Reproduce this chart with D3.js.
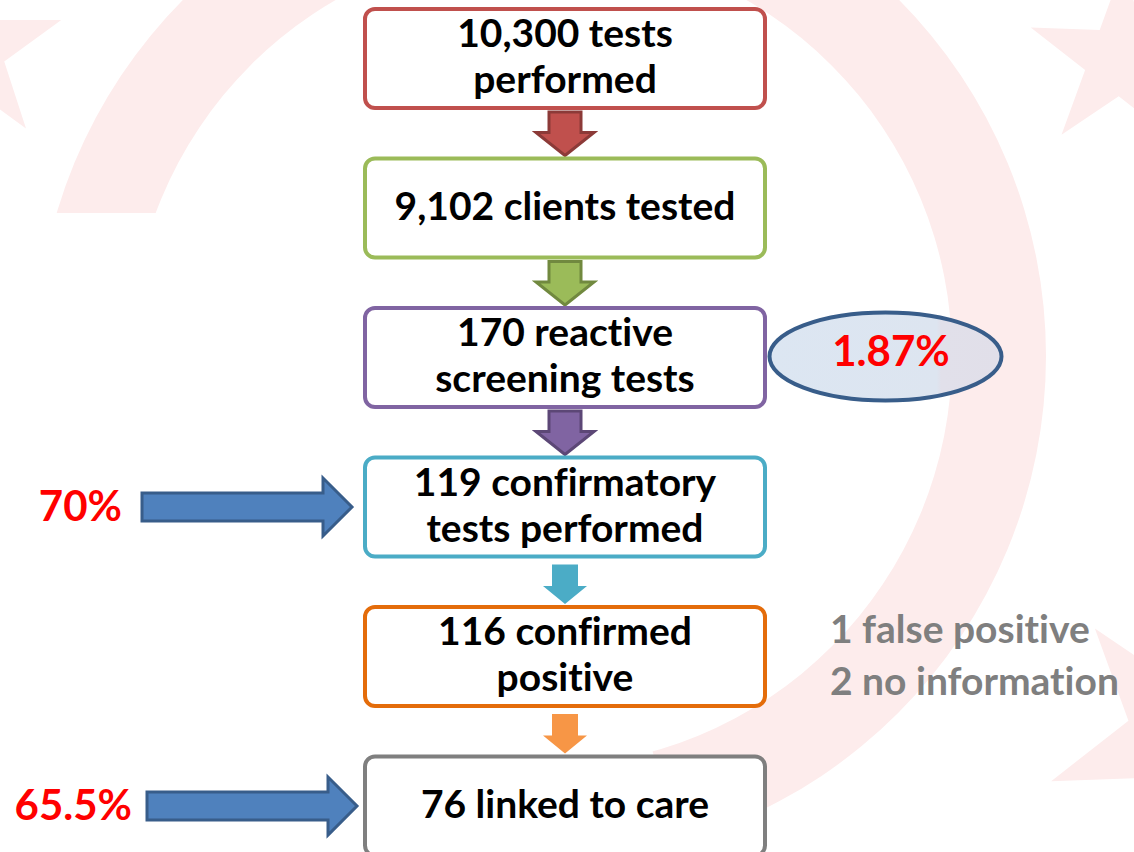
<!DOCTYPE html>
<html>
<head>
<meta charset="utf-8">
<script src="https://cdn.jsdelivr.net/npm/d3@7"></script>
<style>
  body { margin: 0; background: #fff; }
  svg { display: block; font-family: Lato, 'Open Sans', sans-serif; font-weight: 700; font-variant-ligatures: none; }
</style>
</head>
<body>
<div id="chart"></div>
<script>
// cascade steps, top to bottom
const steps = [
  ['10,300 tests', 'performed'],
  ['9,102 clients tested'],
  ['170 reactive', 'screening tests'],
  ['119 confirmatory', 'tests performed'],
  ['116 confirmed', 'positive'],
  ['76 linked to care']
]
const stepColors = ['#c0504d', '#9bbb59', '#8064a2', '#4bacc6', '#e46c0a', '#7f7f7f']
const arrowColors = ['#c0504d', '#9bbb59', '#8064a2', '#4bacc6', '#f79646']
const arrowEdges = ['#8c3a38', '#71893f', '#5c4776', null, null]

// side notes
const positivity = '1.87%'
const sideRates = [{label: '70%', step: 3}, {label: '65.5%', step: 5}]
const lostNotes = ['1 false positive', '2 no information']

const width = 1134
const height = 852

const svg = d3.select('#chart').append('svg')
  .attr('width', width)
  .attr('height', height)

const y = d3.scaleBand()
  .domain(d3.range(steps.length))
  .range([9, 9 + steps.length * 149.5 - 50.5])
  .paddingInner(0.338)
  .paddingOuter(0)

const boxX = 365
const boxW = 400
const cx = boxX + boxW / 2

// faint ring and stars behind everything
const pink = '#fdecec'
svg.append('clipPath').attr('id', 'ring-clip')
  .append('path')
  .attr('d', 'M0,0L1134,0L1134,852L630,852L655,760L541,356L300,213L0,213Z')

const bg = svg.append('g')
bg.append('g')
  .attr('clip-path', 'url(#ring-clip)')
  .append('path')
  .attr('transform', 'translate(541,356)')
  .attr('d', d3.arc()({innerRadius: 411, outerRadius: 505, startAngle: 0, endAngle: 2 * Math.PI}))
  .attr('fill', pink)

const star = d3.symbol().type(d3.symbolStar)
const stars = [
  {x: -31, y: 50, r: 97, rot: 0},
  {x: 1120, y: 60, r: 95, rot: 2},
  {x: 1178, y: 735, r: 135, rot: -38}
]
bg.selectAll('.star')
  .data(stars)
  .join('path')
  .attr('class', 'star')
  .attr('transform', d => 'translate(' + d.x + ',' + d.y + ') rotate(' + d.rot + ')')
  .attr('d', d => star.size(d.r * d.r / 0.8908130915292852)())
  .attr('fill', pink)

// down arrows between boxes
const arrows = svg.append('g')
d3.range(steps.length - 1).forEach(i => {
  const big = arrowEdges[i] !== null
  const top = y(i) + y.bandwidth() + (big ? 4 : 8)
  const tip = y(i + 1) - 3
  const sw = big ? 16 : 13
  const hw = big ? 29 : 22
  const headTop = tip - (big ? 23 : 18)
  const pts = [
    [cx - sw, top], [cx + sw, top], [cx + sw, headTop], [cx + hw, headTop],
    [cx, tip], [cx - hw, headTop], [cx - sw, headTop]
  ]
  arrows.append('path')
    .attr('d', d3.line()(pts) + 'Z')
    .attr('fill', arrowColors[i])
    .attr('stroke', big ? arrowEdges[i] : 'none')
    .attr('stroke-width', 3)
    .attr('stroke-linejoin', 'miter')
})

// boxes
const boxes = svg.append('g')
  .selectAll('g')
  .data(steps)
  .join('g')
  .attr('transform', (d, i) => 'translate(' + boxX + ',' + y(i) + ')')

boxes.append('rect')
  .attr('width', boxW)
  .attr('height', y.bandwidth())
  .attr('rx', 10)
  .attr('fill', '#fff')
  .attr('stroke', (d, i) => stepColors[i])
  .attr('stroke-width', 4)

boxes.each(function (lines) {
  const g = d3.select(this)
  const base = lines.length === 1 ? [61] : [38, 84]
  lines.forEach((t, k) => {
    g.append('text')
      .attr('x', boxW / 2)
      .attr('y', base[k])
      .attr('text-anchor', 'middle')
      .attr('font-size', 39)
      .attr('fill', '#000')
      .text(t)
  })
})

// positivity ellipse next to reactive box
const grad = svg.append('defs').append('linearGradient')
  .attr('id', 'ell-grad')
grad.append('stop').attr('offset', '0%').attr('stop-color', '#dce6f2')
grad.append('stop').attr('offset', '72%').attr('stop-color', '#dde5f0')
grad.append('stop').attr('offset', '74%').attr('stop-color', '#e1e0ea')
grad.append('stop').attr('offset', '100%').attr('stop-color', '#e1dfe9')

const ey = y(2) + y.bandwidth() / 2 - 1
svg.append('ellipse')
  .attr('cx', 885.5)
  .attr('cy', ey)
  .attr('rx', 116)
  .attr('ry', 44)
  .attr('fill', 'url(#ell-grad)')
  .attr('stroke', '#385d8a')
  .attr('stroke-width', 4)
svg.append('text')
  .attr('x', 891)
  .attr('y', ey + 10)
  .attr('text-anchor', 'middle')
  .attr('font-size', 42)
  .attr('fill', '#ff0000')
  .text(positivity)

// blue arrows with rates on the left
const side = svg.append('g')
  .selectAll('g')
  .data(sideRates)
  .join('g')
  .attr('transform', d => 'translate(0,' + (y(d.step) + y.bandwidth() / 2) + ')')

side.append('path')
  .attr('d', (d, i) => {
    const x0 = i === 0 ? 142 : 147
    const tip = i === 0 ? 352 : 357
    const hx = tip - 29
    return d3.line()([
      [x0, -14], [hx, -14], [hx, -29], [tip, 0], [hx, 29], [hx, 14], [x0, 14]
    ]) + 'Z'
  })
  .attr('fill', '#4f81bd')
  .attr('stroke', '#385d8a')
  .attr('stroke-width', 3)

side.append('text')
  .attr('x', (d, i) => i === 0 ? 122 : 132)
  .attr('y', 14)
  .attr('text-anchor', 'end')
  .attr('font-size', 42)
  .attr('fill', '#ff0000')
  .text(d => d.label)

// notes beside confirmed box
svg.append('g')
  .selectAll('text')
  .data(lostNotes)
  .join('text')
  .attr('x', 830)
  .attr('y', (d, i) => y(4) + 36 + i * 52)
  .attr('font-size', 39)
  .attr('fill', '#7f7f7f')
  .text(d => d)
</script>
</body>
</html>
